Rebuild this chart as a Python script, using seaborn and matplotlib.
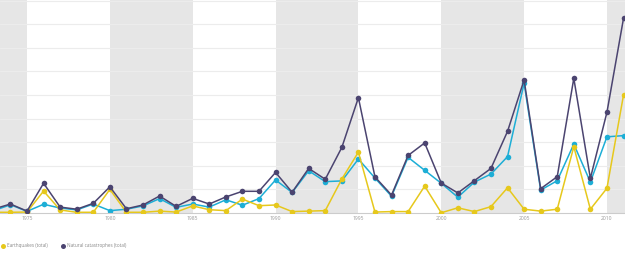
import matplotlib
matplotlib.use("Agg")
import matplotlib.pyplot as plt
from matplotlib.lines import Line2D
import seaborn as sns
import pandas as pd

years = list(range(1973, 2012))

# values in gridline units x 50
natural_total = [0.17, 0.38, 0.08, 1.26, 0.25, 0.16, 0.41, 1.11, 0.18, 0.34,
                 0.72, 0.28, 0.62, 0.38, 0.68, 0.92, 0.92, 1.72, 0.88, 1.89,
                 1.43, 2.78, 4.89, 1.53, 0.76, 2.44, 2.97, 1.27, 0.85, 1.37,
                 1.89, 3.46, 5.64, 1.03, 1.54, 5.71, 1.47, 4.27, 8.25]
other_series = [0.10, 0.35, 0.07, 0.37, 0.21, 0.13, 0.38, 0.10, 0.16, 0.30,
                0.61, 0.24, 0.38, 0.25, 0.56, 0.33, 0.61, 1.40, 0.87, 1.79,
                1.33, 1.36, 2.29, 1.48, 0.71, 2.36, 1.81, 1.26, 0.67, 1.31,
                1.65, 2.39, 5.50, 0.97, 1.37, 2.92, 1.31, 3.23, 3.28]
earthquakes_total = [0.03, 0.03, 0.04, 0.93, 0.13, 0.03, 0.03, 1.00, 0.03, 0.03,
                     0.08, 0.04, 0.30, 0.14, 0.10, 0.59, 0.31, 0.34, 0.06, 0.08,
                     0.10, 1.44, 2.58, 0.04, 0.06, 0.06, 1.14, 0.01, 0.22, 0.06,
                     0.27, 1.07, 0.16, 0.08, 0.16, 2.81, 0.16, 1.05, 5.00]

natural_total = [v * 50 for v in natural_total]
other_series = [v * 50 for v in other_series]
earthquakes_total = [v * 50 for v in earthquakes_total]

tick_years = [1975, 1980, 1985, 1990, 1995, 2000, 2005, 2010]
legend_labels = ["Earthquakes (total)", "Natural catastrophes (total)"]

YELLOW = "#e6c81c"
PURPLE = "#4b4470"
CYAN = "#1daed6"

df = pd.DataFrame({"year": years, "natural": natural_total,
                   "other": other_series, "quake": earthquakes_total})

sns.set_style("white")
plt.rcParams["font.family"] = ["Open Sans", "DejaVu Sans"]

fig = plt.figure(figsize=(6.25, 2.64), dpi=100)
ax = fig.add_axes([0, 1 - 213 / 264, 1, 213 / 264])

for s in [1970, 1980, 1990, 2000, 2010]:
    ax.axvspan(s, s + 5, color="#e6e6e6", zorder=0, lw=0)
for g in range(50, 451, 50):
    ax.axhline(g, color="#ececec", lw=0.8, zorder=0.5)

kw = dict(marker="o", markersize=4, markeredgewidth=0, linewidth=1.1, ax=ax)
sns.lineplot(data=df, x="year", y="other", color=CYAN, zorder=2, **kw)
sns.lineplot(data=df, x="year", y="quake", color=YELLOW, zorder=3, **kw)
sns.lineplot(data=df, x="year", y="natural", color=PURPLE, zorder=4, **kw)

ax.set_xlim(1973.37, 2011.09)
ax.set_ylim(0, 451.5)
ax.set_xticks(tick_years)
ax.set_xticklabels([str(t) for t in tick_years], fontsize=3.6, color="#999999")
ax.tick_params(axis="x", length=0, pad=2.5)
ax.set_yticks([])
ax.set_xlabel("")
ax.set_ylabel("")
for side in ["top", "left", "right"]:
    ax.spines[side].set_visible(False)
ax.spines["bottom"].set_color("#cccccc")
ax.spines["bottom"].set_linewidth(0.8)

handles = [Line2D([], [], marker="o", color=YELLOW, ls="", markersize=3.6, markeredgewidth=0),
           Line2D([], [], marker="o", color=PURPLE, ls="", markersize=3.6, markeredgewidth=0)]
fig.legend(handles, legend_labels, loc="center left", bbox_to_anchor=(0.002, 1 - 246 / 264),
           ncol=2, frameon=False, fontsize=3.3, labelcolor="#888888",
           handletextpad=0.4, columnspacing=3.0, handlelength=0.8,
           borderpad=0, borderaxespad=0)

fig.savefig("out.png", dpi=100)
